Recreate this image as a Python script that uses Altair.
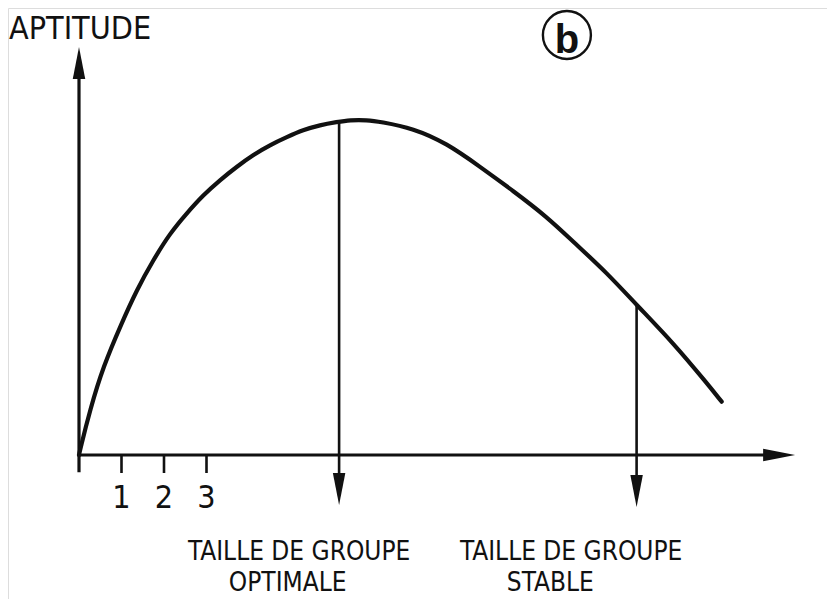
import altair as alt
import pandas as pd

# ---- data ----
# curve: group size (x units, ticks 1,2,3) vs aptitude (arbitrary units)
group_size = [0, 0.024, 0.259, 0.565, 1.005, 1.358, 1.748, 2.141, 2.534, 2.925, 3.318,
              3.711, 4.094, 4.494, 4.894, 5.271, 5.671, 6.071, 6.376, 6.776, 7.082,
              7.866, 8.652, 9.435, 10.219, 11.005, 11.631, 12.416, 13.122, 13.984,
              14.769, 15.122]
aptitude = [0, 0.125, 1.125, 2.2, 3.3, 4.125, 4.875, 5.543, 6.043, 6.5, 6.875,
            7.208, 7.5, 7.75, 7.95, 8.125, 8.25, 8.325, 8.375, 8.375, 8.333,
            8.168, 7.793, 7.208, 6.6, 5.96, 5.33, 4.56, 3.75, 2.8,
            1.8, 1.333]

tick_values = [1, 2, 3]
tick_labels = ["1", "2", "3"]

optimal_size = 6.12     # peak of the curve
optimal_apt = 8.36
stable_size = 13.12
stable_apt = 3.75

y_axis_top = 10.2       # tip of y arrow
x_axis_end = 16.85      # tip of x arrow
drop_tip = [-1.25, -1.3]  # tips of the two down arrows

label_lines = ["TAILLE DE GROUPE", "OPTIMALE", "TAILLE DE GROUPE", "STABLE"]
label_x = [5.18, 4.91, 11.58, 11.09]
label_y = [-2.625, -3.4, -2.625, -3.4]

# ---- scales (pixel mapping of the drawing) ----
X_DOM = [-71 / 42.5, 748 / 42.5]
Y_DOM = [(447 - 591) / 40, 447 / 40]
xs = alt.Scale(domain=X_DOM, nice=False, zero=False)
ys = alt.Scale(domain=Y_DOM, nice=False, zero=False)

def X(f="x"):
    return alt.X(f"{f}:Q", scale=xs, axis=None)

def Y(f="y"):
    return alt.Y(f"{f}:Q", scale=ys, axis=None)

BLACK = "#111111"
FONT = "DejaVu Sans Condensed, Roboto"

curve_df = pd.DataFrame({"x": group_size, "y": aptitude})
curve = alt.Chart(curve_df).mark_line(
    color=BLACK, strokeWidth=4.2, interpolate="basis", strokeCap="round"
).encode(x=X(), y=Y())

rules_df = pd.DataFrame({
    "x":  [0, 0, optimal_size, stable_size] + tick_values,
    "x2": [0, x_axis_end - 0.5, optimal_size, stable_size] + tick_values,
    "y":  [-0.43, 0, optimal_apt, stable_apt] + [0, 0, 0],
    "y2": [y_axis_top - 0.5, 0, drop_tip[0] + 0.5, drop_tip[1] + 0.5] + [-0.45, -0.45, -0.45],
    "w":  [3.2, 3.2, 2.6, 2.6, 2.6, 2.6, 2.6],
})
rules = alt.Chart(rules_df).mark_rule(color=BLACK).encode(
    x=X(), x2="x2:Q", y=Y(), y2="y2:Q",
    strokeWidth=alt.StrokeWidth("w:Q", scale=None),
)

arrow_shape = "M0,-1L0.39,1L-0.39,1Z"
heads_df = pd.DataFrame({
    "x": [0, x_axis_end - 0.376, optimal_size, stable_size],
    "y": [y_axis_top - 0.4, 0, drop_tip[0] + 0.4, drop_tip[1] + 0.4],
    "a": [0, 90, 180, 180],
})
heads = alt.Chart(heads_df).mark_point(
    shape=arrow_shape, filled=True, size=1024, color=BLACK, opacity=1
).encode(x=X(), y=Y(), angle=alt.Angle("a:Q", scale=None))

ticks_df = pd.DataFrame({"x": tick_values, "y": [-1.325] * 3, "t": tick_labels})
tick_text = alt.Chart(ticks_df).mark_text(
    font=FONT, fontSize=32, color=BLACK, align="center", baseline="alphabetic"
).encode(x=X(), y=Y(), text="t:N")

labels_df = pd.DataFrame({"x": label_x, "y": label_y, "t": label_lines})
labels = alt.Chart(labels_df).mark_text(
    font=FONT, fontSize=26, color=BLACK, align="center", baseline="alphabetic"
).encode(x=X(), y=Y(), text="t:N")

title_df = pd.DataFrame({"x": [-1.647], "y": [10.4], "t": ["APTITUDE"]})
title = alt.Chart(title_df).mark_text(
    font=FONT, fontSize=32, color=BLACK, align="left", baseline="alphabetic"
).encode(x=X(), y=Y(), text="t:N")

badge_df = pd.DataFrame({"x": [11.48], "y": [10.5]})
badge_circle = alt.Chart(badge_df).mark_point(
    shape="circle", size=2304, filled=False, color=BLACK, strokeWidth=2.4, opacity=1
).encode(x=X(), y=Y())
badge_text = alt.Chart(pd.DataFrame({"x": [11.48], "y": [10.05], "t": ["b"]})).mark_text(
    font="Liberation Sans", fontSize=40, fontWeight="bold", color=BLACK,
    align="center", baseline="alphabetic"
).encode(x=X(), y=Y(), text="t:N")

chart = alt.layer(
    rules, curve, heads, tick_text, labels, title, badge_circle, badge_text
).properties(
    width=819, height=591, padding=0,
    autosize=alt.AutoSizeParams(type="none"),
).configure_view(stroke=None).configure(background="white")

chart.save("out.html", embed_options={"renderer": "svg", "actions": False})
